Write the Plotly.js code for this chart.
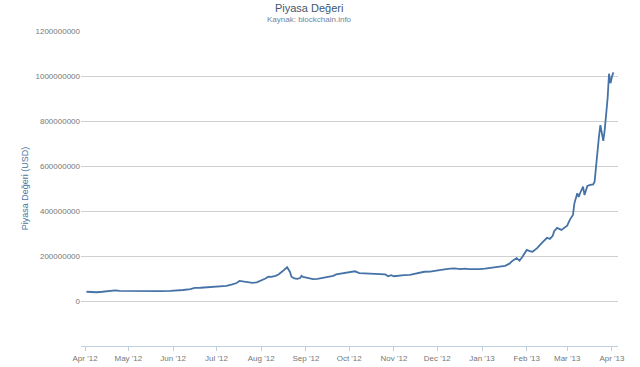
<!DOCTYPE html>
<html>
<head>
<meta charset="utf-8">
<script src="https://cdn.plot.ly/plotly-3.0.1.min.js"></script>
<style>html,body{margin:0;padding:0;background:#fff;}#chart{width:640px;height:367px;}</style>
</head>
<body>
<div id="chart"></div>
<script>
const dates = [
"2012-04-02","2012-04-05","2012-04-09","2012-04-13","2012-04-18","2012-04-22","2012-04-25",
"2012-05-02","2012-05-09","2012-05-16","2012-05-23","2012-05-30",
"2012-06-04","2012-06-08","2012-06-13","2012-06-16","2012-06-20","2012-06-24","2012-06-29",
"2012-07-03","2012-07-08","2012-07-12","2012-07-15","2012-07-17","2012-07-21","2012-07-24","2012-07-26","2012-07-29",
"2012-08-01","2012-08-04","2012-08-06","2012-08-08","2012-08-11","2012-08-13","2012-08-16","2012-08-19","2012-08-21","2012-08-22","2012-08-24","2012-08-26","2012-08-28","2012-08-29","2012-08-30",
"2012-09-03","2012-09-06","2012-09-09","2012-09-13","2012-09-16","2012-09-20","2012-09-22","2012-09-25","2012-09-28",
"2012-10-01","2012-10-05","2012-10-08","2012-10-12","2012-10-15","2012-10-19","2012-10-22","2012-10-26","2012-10-28","2012-10-30",
"2012-11-01","2012-11-05","2012-11-08","2012-11-12","2012-11-15","2012-11-19","2012-11-22","2012-11-26","2012-11-29",
"2012-12-03","2012-12-06","2012-12-10","2012-12-13","2012-12-17","2012-12-20","2012-12-23","2012-12-26","2012-12-30",
"2013-01-03","2013-01-06","2013-01-10","2013-01-13","2013-01-17","2013-01-20","2013-01-22","2013-01-25","2013-01-27","2013-01-29",
"2013-02-01","2013-02-03","2013-02-05","2013-02-08","2013-02-10","2013-02-12","2013-02-15","2013-02-17","2013-02-19","2013-02-20","2013-02-22","2013-02-25",
"2013-03-01","2013-03-03","2013-03-05","2013-03-06","2013-03-08","2013-03-09","2013-03-10","2013-03-12","2013-03-13","2013-03-15","2013-03-17","2013-03-19","2013-03-20",
"2013-03-21","2013-03-22","2013-03-23","2013-03-24","2013-03-25","2013-03-26","2013-03-27","2013-03-28","2013-03-29","2013-03-30","2013-03-31","2013-04-01","2013-04-02"
];
const marketCapMillions = [
41,40,39,41,44,47,45,
44,45,45,44,45,
46,49,53,58,59,61,62,
64,67,74,80,89,86,84,81,83,
90,100,108,107,112,118,133,150,129,108,100,98,102,112,107,
102,97,98,103,108,112,118,121,124,
127,132,124,123,122,121,121,118,110,115,
110,114,115,116,120,124,130,131,133,
138,141,144,145,142,144,142,141,142,
144,146,149,153,156,166,178,191,179,197,
227,222,219,234,249,262,281,276,290,310,325,316,
335,363,382,434,479,463,480,508,471,511,516,518,530,
600,680,730,782,740,712,760,820,900,1010,968,997,1016
];
const marketCap = marketCapMillions.map(v => v * 1e6);
const monthTicks = ["2012-04-01","2012-05-01","2012-06-01","2012-07-01","2012-08-01","2012-09-01","2012-10-01","2012-11-01","2012-12-01","2013-01-01","2013-02-01","2013-03-01","2013-04-01"];
const monthLabels = ["Apr '12","May '12","Jun '12","Jul '12","Aug '12","Sep '12","Oct '12","Nov '12","Dec '12","Jan '13","Feb '13","Mar '13","Apr '13"];
const yTicks = [0,200000000,400000000,600000000,800000000,1000000000,1200000000];
const yLabels = ["0","200000000","400000000","600000000","800000000","1000000000","1200000000"];

const font = "Liberation Sans, Arial, sans-serif";
const trace = {
  x: dates, y: marketCap, type: "scatter", mode: "lines",
  line: {color: "#4572A7", width: 1.8}, hoverinfo: "x+y"
};
const layout = {
  width: 640, height: 367,
  margin: {l: 81, r: 22, t: 31, b: 21},
  paper_bgcolor: "#fff", plot_bgcolor: "#fff",
  showlegend: false,
  font: {family: font, size: 8, color: "#777"},
  title: {text: "Piyasa Değeri", font: {family: font, size: 11, color: "#3E576F"},
          xref: "container", x: 0.483, xanchor: "center", yref: "container", y: 0.977, yanchor: "middle"},
  annotations: [{text: "Kaynak: blockchain.info", xref: "paper", yref: "paper", x: 0.4246, y: 1.038,
                 xanchor: "center", yanchor: "middle", showarrow: false,
                 font: {family: font, size: 8, color: "#6D869F"}}],
  xaxis: {
    type: "date", range: ["2012-03-29 05:00", "2013-04-05 05:00"],
    tickvals: monthTicks, ticktext: monthLabels,
    showgrid: false, zeroline: false,
    showline: true, linecolor: "#C0D0E0", linewidth: 1,
    ticks: "outside", ticklen: 4, tickcolor: "#C0D0E0",
    tickfont: {family: font, size: 8, color: "#777"}
  },
  yaxis: {
    range: [-200000000, 1200000000],
    tickvals: yTicks, ticktext: yLabels,
    showgrid: true, gridcolor: "#D0D0D0", gridwidth: 1,
    zeroline: false, showline: false, ticks: "",
    tickfont: {family: font, size: 8, color: "#777"},
    title: {text: "Piyasa Değeri (USD)", standoff: 5, font: {family: font, size: 9, color: "#4D759E"}}
  }
};
Plotly.newPlot("chart", [trace], layout, {staticPlot: true, displayModeBar: false});
</script>
</body>
</html>
